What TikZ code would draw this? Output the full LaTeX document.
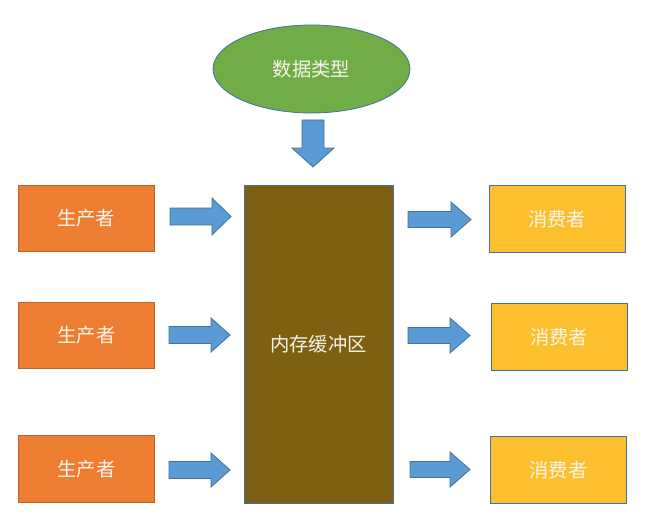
\documentclass[tikz,border=0pt]{standalone}
\usepackage{fontspec}
\newfontfamily\cjk{Noto Sans CJK SC}
\usetikzlibrary{shapes.geometric}
\definecolor{arrowfill}{HTML}{5B9BD5}
\definecolor{arrowline}{HTML}{41719C}
\definecolor{prodfill}{HTML}{ED7D31}
\definecolor{prodline}{HTML}{B9652E}
\definecolor{consfill}{HTML}{FCBF2E}
\definecolor{bufffill}{HTML}{7F6012}
\definecolor{ellfill}{HTML}{70AD47}
\definecolor{txt}{HTML}{F7F3EA}
\tikzset{
  x=0.75pt, y=-0.75pt,
  boxtext/.style={font=\cjk\fontsize{14.5pt}{16pt}\selectfont, text=txt},
  prodbox/.style={boxtext, rectangle, fill=prodfill, draw=prodline, line width=0.6pt,
    minimum width=102pt, minimum height=50pt, inner sep=0pt},
  consbox/.style={boxtext, rectangle, fill=consfill, draw=arrowline, line width=0.6pt,
    minimum width=102pt, minimum height=50pt, inner sep=0pt},
  buffbox/.style={boxtext, rectangle, fill=bufffill, draw=arrowline, line width=0.6pt,
    minimum width=111.75pt, minimum height=238.5pt, inner sep=0pt},
  databox/.style={boxtext, ellipse, fill=ellfill, draw=arrowline, line width=0.6pt,
    minimum width=147.75pt, minimum height=66pt, inner sep=0pt},
  blockarrow/.style={fill=arrowfill, draw=arrowline, line width=0.6pt, line join=miter}
}
% right arrow: #1 = left x, #2 = centre y, #3 = length, #4 = head length, #5 = shaft half, #6 = head half
\newcommand\rblockarrow[6]{%
  \path[blockarrow] (#1,#2-#5) -- (#1+#3-#4,#2-#5) -- (#1+#3-#4,#2-#6) -- (#1+#3,#2)
    -- (#1+#3-#4,#2+#6) -- (#1+#3-#4,#2+#5) -- (#1,#2+#5) -- cycle;}
\begin{document}
\begin{tikzpicture}
\useasboundingbox (0,0) rectangle (645,524);
\fill[white] (0,0) rectangle (645,524);

\node[databox] (data) at (311.5,69) {数据类型};
\node[buffbox] (buf) at (318.5,344) {内存缓冲区};

\node[prodbox] (p1) at (86,218.5) {生产者};
\node[prodbox] (p2) at (86.5,335.5) {生产者};
\node[prodbox] (p3) at (86.5,469) {生产者};

\node[consbox] (c1) at (557,219) {消费者};
\node[consbox] (c2) at (559,337) {消费者};
\node[consbox] (c3) at (558.5,470) {消费者};

% down arrow
\path[blockarrow] (302,120) -- (324,120) -- (324,148) -- (334,148) -- (313,167)
  -- (292,148) -- (302,148) -- cycle;

% producer arrows
\rblockarrow{170}{216.5}{61}{19}{8.5}{18.5}
\rblockarrow{169}{335}{61}{19}{8.5}{17}
\rblockarrow{169}{470}{61}{19}{8.5}{17}

% consumer arrows
\rblockarrow{408}{219.5}{63}{20}{8}{17.5}
\rblockarrow{408}{335.5}{62}{20}{8}{17.5}
\rblockarrow{410}{469.5}{60}{20}{8}{17.5}
\end{tikzpicture}
\end{document}
